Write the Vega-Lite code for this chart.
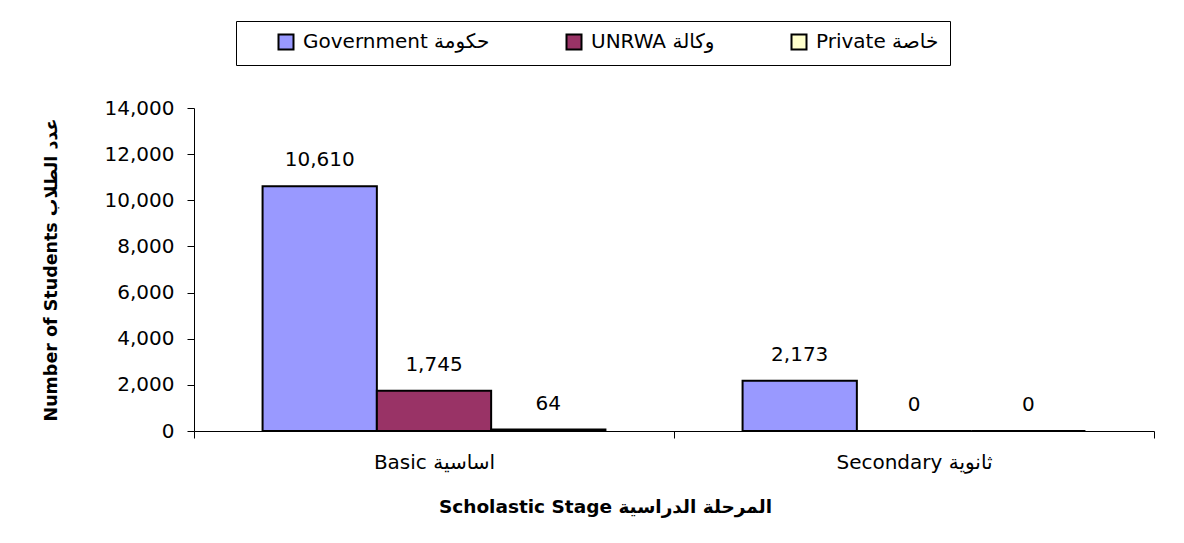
{
  "$schema": "https://vega.github.io/schema/vega-lite/v6.json",
  "autosize": "none",
  "width": 960,
  "height": 323,
  "padding": {"left": 194, "top": 108, "right": 30, "bottom": 112},
  "background": "white",
  "config": {"view": {"stroke": null}, "font": "DejaVu Sans"},
  "data": {
    "values": [
      {"stage": "Basic اساسية", "authority": "Government حكومة", "students": 10610},
      {"stage": "Basic اساسية", "authority": "UNRWA وكالة", "students": 1745},
      {"stage": "Basic اساسية", "authority": "Private خاصة", "students": 64},
      {"stage": "Secondary ثانوية", "authority": "Government حكومة", "students": 2173},
      {"stage": "Secondary ثانوية", "authority": "UNRWA وكالة", "students": 0},
      {"stage": "Secondary ثانوية", "authority": "Private خاصة", "students": 0}
    ]
  },
  "encoding": {
    "x": {
      "field": "stage",
      "type": "nominal",
      "sort": ["Basic اساسية", "Secondary ثانوية"],
      "scale": {"paddingInner": 0, "paddingOuter": 0},
      "axis": {
        "title": "Scholastic Stage   المرحلة الدراسية",
        "titleFontSize": 18.5,
        "titleFontWeight": "bold",
        "titleColor": "black",
        "titleX": 411,
        "titleY": 75,
        "titleBaseline": "middle",
        "labelAngle": 0,
        "labelFontSize": 20,
        "labelColor": "black",
        "labelPadding": 14,
        "tickSize": 7,
        "tickColor": "black",
        "domainColor": "black",
        "tickBand": "extent",
        "grid": false
      }
    },
    "xOffset": {
      "field": "authority",
      "sort": ["Government حكومة", "UNRWA وكالة", "Private خاصة"],
      "scale": {"paddingInner": 0, "paddingOuter": 0.6}
    },
    "y": {
      "field": "students",
      "type": "quantitative",
      "scale": {"domain": [0, 14000], "nice": false},
      "axis": {
        "title": "Number of Students      عدد الطلاب",
        "titleFontSize": 17.5,
        "titleFontWeight": "bold",
        "titleColor": "black",
        "titleX": -143,
        "titleBaseline": "middle",
        "values": [0, 2000, 4000, 6000, 8000, 10000, 12000, 14000],
        "format": ",d",
        "labelFontSize": 20,
        "labelColor": "black",
        "labelPadding": 13,
        "tickSize": 7,
        "tickColor": "black",
        "domainColor": "black",
        "grid": false
      }
    }
  },
  "layer": [
    {
      "mark": {"type": "bar", "stroke": "black", "strokeWidth": 2},
      "encoding": {
        "color": {
          "field": "authority",
          "type": "nominal",
          "sort": ["Government حكومة", "UNRWA وكالة", "Private خاصة"],
          "scale": {
            "domain": ["Government حكومة", "UNRWA وكالة", "Private خاصة"],
            "range": ["#9999FF", "#993366", "#FFFFCC"]
          },
          "legend": {
            "title": null,
            "orient": "none",
            "legendX": 42,
            "legendY": -87,
            "direction": "horizontal",
            "columns": 3,
            "gridAlign": "none",
            "columnPadding": 45,
            "labelFontSize": 20,
            "labelColor": "black",
            "labelOffset": 7,
            "labelLimit": 400,
            "symbolType": "square",
            "symbolSize": 225,
            "symbolOffset": 29,
            "symbolStrokeColor": "black",
            "symbolStrokeWidth": 2,
            "symbolOpacity": 1,
            "strokeColor": "black",
            "padding": 11
          }
        }
      }
    },
    {
      "mark": {"type": "text", "dy": -26, "fontSize": 20, "color": "black"},
      "encoding": {"text": {"field": "students", "type": "quantitative", "format": ",d"}}
    }
  ]
}
